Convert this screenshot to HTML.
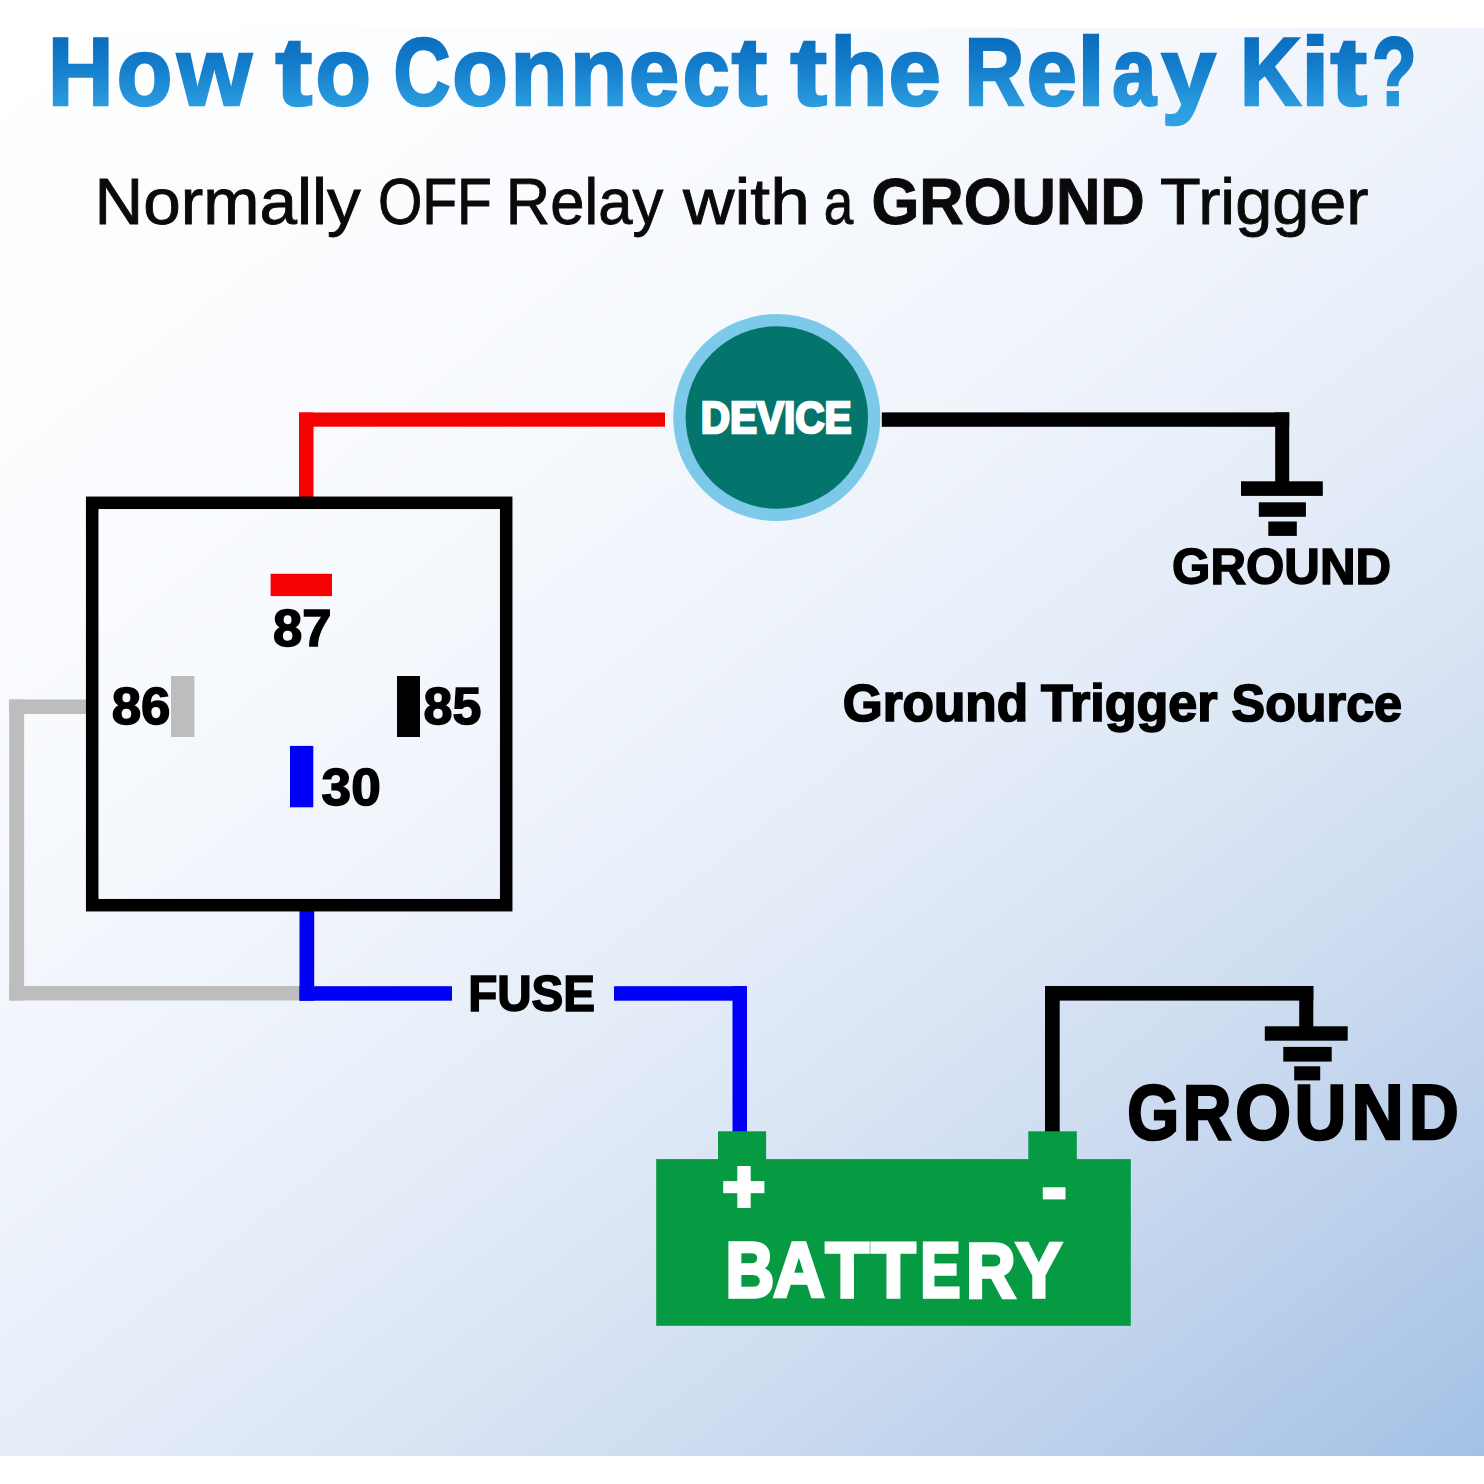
<!DOCTYPE html>
<html><head><meta charset="utf-8"><title>How to Connect the Relay Kit?</title>
<style>
html,body{margin:0;padding:0;background:#fff;}
body{width:1484px;height:1484px;overflow:hidden;font-family:"Liberation Sans",sans-serif;}
svg{display:block;position:absolute;left:0;top:0;}
text{font-family:"Liberation Sans",sans-serif;white-space:pre;}
</style></head><body>
<svg width="1484" height="1484" viewBox="0 0 1484 1484">
<defs>
<linearGradient id="bg" gradientUnits="userSpaceOnUse" x1="0" y1="28" x2="1254" y2="1634">
<stop offset="0" stop-color="#ffffff"/>
<stop offset="0.25" stop-color="#f9fbfe"/>
<stop offset="0.40" stop-color="#f2f6fc"/>
<stop offset="0.50" stop-color="#ebf1fa"/>
<stop offset="0.62" stop-color="#dfe9f6"/>
<stop offset="0.75" stop-color="#cfddf1"/>
<stop offset="0.87" stop-color="#bbd0eb"/>
<stop offset="1" stop-color="#a3c1e5"/>
</linearGradient>
<linearGradient id="tg" gradientUnits="userSpaceOnUse" x1="0" y1="-70" x2="0" y2="20">
<stop offset="0" stop-color="#0a6cbd"/>
<stop offset="0.35" stop-color="#147dcb"/>
<stop offset="0.78" stop-color="#2a9bdf"/>
<stop offset="1" stop-color="#2fa2e4"/>
</linearGradient>
</defs>
<rect x="0" y="0" width="1484" height="1484" fill="#ffffff"/>
<rect x="0" y="28" width="1484" height="1428" fill="url(#bg)"/>

<g>
<text transform="translate(47.91 104.70) scale(0.9454 1)" font-size="95.85" font-weight="bold" fill="url(#tg)" stroke="url(#tg)" stroke-width="2.60" stroke-linejoin="miter" stroke-miterlimit="3">H</text>
<text transform="translate(116.80 104.70) scale(0.9489 1)" font-size="95.85" font-weight="bold" fill="url(#tg)" stroke="url(#tg)" stroke-width="2.60" stroke-linejoin="miter" stroke-miterlimit="3">o</text>
<text transform="translate(177.14 104.70) scale(0.9973 1)" font-size="95.85" font-weight="bold" fill="url(#tg)" stroke="url(#tg)" stroke-width="2.60" stroke-linejoin="miter" stroke-miterlimit="3">w</text>
<text transform="translate(275.52 104.70) scale(1.1504 1)" font-size="95.85" font-weight="bold" fill="url(#tg)" stroke="url(#tg)" stroke-width="2.60" stroke-linejoin="miter" stroke-miterlimit="3">t</text>
<text transform="translate(315.60 104.70) scale(0.9451 1)" font-size="95.85" font-weight="bold" fill="url(#tg)" stroke="url(#tg)" stroke-width="2.60" stroke-linejoin="miter" stroke-miterlimit="3">o</text>
<text transform="translate(393.41 104.70) scale(0.8228 1)" font-size="95.85" font-weight="bold" fill="url(#tg)" stroke="url(#tg)" stroke-width="2.60" stroke-linejoin="miter" stroke-miterlimit="3">C</text>
<text transform="translate(452.30 104.70) scale(0.9489 1)" font-size="95.85" font-weight="bold" fill="url(#tg)" stroke="url(#tg)" stroke-width="2.60" stroke-linejoin="miter" stroke-miterlimit="3">o</text>
<text transform="translate(510.60 104.70) scale(0.9737 1)" font-size="95.85" font-weight="bold" fill="url(#tg)" stroke="url(#tg)" stroke-width="2.60" stroke-linejoin="miter" stroke-miterlimit="3">n</text>
<text transform="translate(570.07 104.70) scale(0.9798 1)" font-size="95.85" font-weight="bold" fill="url(#tg)" stroke="url(#tg)" stroke-width="2.60" stroke-linejoin="miter" stroke-miterlimit="3">n</text>
<text transform="translate(629.12 104.70) scale(0.9396 1)" font-size="95.85" font-weight="bold" fill="url(#tg)" stroke="url(#tg)" stroke-width="2.60" stroke-linejoin="miter" stroke-miterlimit="3">e</text>
<text transform="translate(682.67 104.70) scale(0.8798 1)" font-size="95.85" font-weight="bold" fill="url(#tg)" stroke="url(#tg)" stroke-width="2.60" stroke-linejoin="miter" stroke-miterlimit="3">c</text>
<text transform="translate(731.81 104.70) scale(1.1099 1)" font-size="95.85" font-weight="bold" fill="url(#tg)" stroke="url(#tg)" stroke-width="2.60" stroke-linejoin="miter" stroke-miterlimit="3">t</text>
<text transform="translate(790.52 104.70) scale(1.1411 1)" font-size="95.85" font-weight="bold" fill="url(#tg)" stroke="url(#tg)" stroke-width="2.60" stroke-linejoin="miter" stroke-miterlimit="3">t</text>
<text transform="translate(830.31 104.70) scale(0.9772 1)" font-size="95.85" font-weight="bold" fill="url(#tg)" stroke="url(#tg)" stroke-width="2.60" stroke-linejoin="miter" stroke-miterlimit="3">h</text>
<text transform="translate(888.62 104.70) scale(0.9806 1)" font-size="95.85" font-weight="bold" fill="url(#tg)" stroke="url(#tg)" stroke-width="2.60" stroke-linejoin="miter" stroke-miterlimit="3">e</text>
<text transform="translate(964.53 104.70) scale(0.8651 1)" font-size="95.85" font-weight="bold" fill="url(#tg)" stroke="url(#tg)" stroke-width="2.60" stroke-linejoin="miter" stroke-miterlimit="3">R</text>
<text transform="translate(1026.72 104.70) scale(0.9396 1)" font-size="95.85" font-weight="bold" fill="url(#tg)" stroke="url(#tg)" stroke-width="2.60" stroke-linejoin="miter" stroke-miterlimit="3">e</text>
<text transform="translate(1077.38 104.70) scale(1.0203 1)" font-size="95.85" font-weight="bold" fill="url(#tg)" stroke="url(#tg)" stroke-width="2.60" stroke-linejoin="miter" stroke-miterlimit="3">l</text>
<text transform="translate(1112.30 104.70) scale(0.8221 1)" font-size="95.85" font-weight="bold" fill="url(#tg)" stroke="url(#tg)" stroke-width="2.60" stroke-linejoin="miter" stroke-miterlimit="3">a</text>
<text transform="translate(1161.59 104.70) scale(1.0183 1)" font-size="95.85" font-weight="bold" fill="url(#tg)" stroke="url(#tg)" stroke-width="2.60" stroke-linejoin="miter" stroke-miterlimit="3">y</text>
<text transform="translate(1239.94 104.70) scale(0.8816 1)" font-size="95.85" font-weight="bold" fill="url(#tg)" stroke="url(#tg)" stroke-width="2.60" stroke-linejoin="miter" stroke-miterlimit="3">K</text>
<text transform="translate(1301.31 104.70) scale(1.0520 1)" font-size="95.85" font-weight="bold" fill="url(#tg)" stroke="url(#tg)" stroke-width="2.60" stroke-linejoin="miter" stroke-miterlimit="3">i</text>
<text transform="translate(1330.62 104.70) scale(1.1442 1)" font-size="95.85" font-weight="bold" fill="url(#tg)" stroke="url(#tg)" stroke-width="2.60" stroke-linejoin="miter" stroke-miterlimit="3">t</text>
<text transform="translate(1372.12 104.70) scale(0.7626 1)" font-size="95.85" font-weight="bold" fill="url(#tg)" stroke="url(#tg)" stroke-width="2.60" stroke-linejoin="miter" stroke-miterlimit="3">?</text>
</g>
<g>
<text transform="translate(94.50 224.25) scale(1.0402 1)" font-size="64.87" font-weight="normal" fill="#0a0a0a" stroke="#0a0a0a" stroke-width="0.90" stroke-linejoin="miter" stroke-miterlimit="3">Normally</text>
<text transform="translate(377.88 224.25) scale(0.8798 1)" font-size="64.87" font-weight="normal" fill="#0a0a0a" stroke="#0a0a0a" stroke-width="0.90" stroke-linejoin="miter" stroke-miterlimit="3">OFF</text>
<text transform="translate(505.85 224.25) scale(0.9486 1)" font-size="64.87" font-weight="normal" fill="#0a0a0a" stroke="#0a0a0a" stroke-width="0.90" stroke-linejoin="miter" stroke-miterlimit="3">Relay</text>
<text transform="translate(682.99 224.25) scale(1.0992 1)" font-size="64.87" font-weight="normal" fill="#0a0a0a" stroke="#0a0a0a" stroke-width="0.90" stroke-linejoin="miter" stroke-miterlimit="3">with</text>
<text transform="translate(823.71 224.25) scale(0.8170 1)" font-size="64.87" font-weight="normal" fill="#0a0a0a" stroke="#0a0a0a" stroke-width="0.90" stroke-linejoin="miter" stroke-miterlimit="3">a</text>
<text transform="translate(871.41 224.20) scale(0.9503 1)" font-size="64.73" font-weight="bold" fill="#0a0a0a" stroke="#0a0a0a" stroke-width="1.00" stroke-linejoin="miter" stroke-miterlimit="3">GROUND</text>
<text transform="translate(1159.96 224.25) scale(1.0272 1)" font-size="64.87" font-weight="normal" fill="#0a0a0a" stroke="#0a0a0a" stroke-width="0.90" stroke-linejoin="miter" stroke-miterlimit="3">Trigger</text>
</g>
<g>
<rect x="299" y="412.5" width="14.5" height="90" fill="#f40202"/>
<rect x="299" y="412.5" width="366" height="14.2" fill="#f40202"/>
<rect x="9.2" y="699.5" width="80" height="14.5" fill="#bdbdbd"/>
<rect x="9.2" y="699.5" width="14.9" height="301" fill="#bdbdbd"/>
<rect x="9.2" y="986" width="291" height="14.5" fill="#bdbdbd"/>
<rect x="299.5" y="905" width="14.7" height="95.7" fill="#0000f6"/>
<rect x="299.5" y="986.2" width="152.5" height="14.5" fill="#0000f6"/>
<rect x="614" y="986.2" width="133" height="14.5" fill="#0000f6"/>
<rect x="732.5" y="986.2" width="14.5" height="150" fill="#0000f6"/>
<rect x="881.8" y="412.4" width="407.4" height="14.4" fill="#000000"/>
<rect x="1275.2" y="412.4" width="14" height="72" fill="#000000"/>
<rect x="1241" y="481.3" width="81.8" height="14.6" fill="#000000"/>
<rect x="1258.8" y="502.3" width="47.1" height="14.5" fill="#000000"/>
<rect x="1268.3" y="521.5" width="28.5" height="14.4" fill="#000000"/>
<rect x="1045" y="986" width="14.7" height="150" fill="#000000"/>
<rect x="1045" y="986" width="268.3" height="14.6" fill="#000000"/>
<rect x="1299.2" y="986" width="14.1" height="44" fill="#000000"/>
<rect x="1264.8" y="1026.3" width="82.9" height="14.4" fill="#000000"/>
<rect x="1283.3" y="1046.9" width="48.4" height="14.7" fill="#000000"/>
<rect x="1294.2" y="1066.3" width="26" height="14.1" fill="#000000"/>
<rect x="92.2" y="502.8" width="414" height="402.4" fill="none" stroke="#000" stroke-width="12.5"/>
<rect x="270.6" y="573.8" width="61.4" height="22.3" fill="#f40202"/>
<rect x="171" y="676" width="23.4" height="61" fill="#bdbdbd"/>
<rect x="397" y="676" width="23" height="61" fill="#000000"/>
<rect x="290" y="745.9" width="23.3" height="61.4" fill="#0000f6"/>
<rect x="656.2" y="1159.1" width="474.6" height="166.7" fill="#069a43"/>
<rect x="718" y="1131.3" width="48.1" height="30" fill="#069a43"/>
<rect x="1028.3" y="1131.3" width="48.5" height="30" fill="#069a43"/>
<rect x="723.2" y="1181.1" width="41.2" height="12.1" fill="#fff"/>
<rect x="737.3" y="1166" width="13.4" height="42" fill="#fff"/>
<rect x="1042.8" y="1187.3" width="22.7" height="12.1" fill="#fff"/>
</g>
<circle cx="776.8" cy="417.5" r="103.6" fill="#7cc9e9"/>
<circle cx="776.8" cy="417.5" r="91.2" fill="#04756d"/>
<text transform="translate(700.86 433.30) scale(0.9160 1)" font-size="44.22" font-weight="bold" fill="#ffffff" stroke="#ffffff" stroke-width="2.60" stroke-linejoin="miter" stroke-miterlimit="3">DEVICE</text>
<text transform="translate(273.06 645.55) scale(1.0305 1)" font-size="51.05" font-weight="bold" fill="#000" stroke="#000" stroke-width="1.50" stroke-linejoin="miter" stroke-miterlimit="3">87</text>
<text transform="translate(111.66 724.25) scale(1.0343 1)" font-size="51.05" font-weight="bold" fill="#000" stroke="#000" stroke-width="1.50" stroke-linejoin="miter" stroke-miterlimit="3">86</text>
<text transform="translate(423.57 724.25) scale(1.0180 1)" font-size="51.05" font-weight="bold" fill="#000" stroke="#000" stroke-width="1.50" stroke-linejoin="miter" stroke-miterlimit="3">85</text>
<text transform="translate(321.58 805.15) scale(1.0422 1)" font-size="51.05" font-weight="bold" fill="#000" stroke="#000" stroke-width="1.50" stroke-linejoin="miter" stroke-miterlimit="3">30</text>
<text transform="translate(468.14 1011.10) scale(0.9407 1)" font-size="50.62" font-weight="bold" fill="#000" stroke="#000" stroke-width="1.60" stroke-linejoin="miter" stroke-miterlimit="3">FUSE</text>
<text transform="translate(1172.06 583.95) scale(0.9710 1)" font-size="50.76" font-weight="bold" fill="#000" stroke="#000" stroke-width="1.50" stroke-linejoin="miter" stroke-miterlimit="3">GROUND</text>
<text transform="translate(842.70 720.75) scale(1.0002 1)" font-size="51.35" font-weight="bold" fill="#000" stroke="#000" stroke-width="1.70" stroke-linejoin="miter" stroke-miterlimit="3">Ground</text>
<text transform="translate(1041.04 720.75) scale(1.0139 1)" font-size="51.35" font-weight="bold" fill="#000" stroke="#000" stroke-width="1.70" stroke-linejoin="miter" stroke-miterlimit="3">Trigger</text>
<text transform="translate(1231.62 720.75) scale(0.9794 1)" font-size="51.35" font-weight="bold" fill="#000" stroke="#000" stroke-width="1.70" stroke-linejoin="miter" stroke-miterlimit="3">Source</text>
<text transform="translate(1127.14 1139.20) scale(0.8565 1)" font-size="77.96" font-weight="bold" fill="#000" stroke="#000" stroke-width="2.60" stroke-linejoin="miter" stroke-miterlimit="3">G</text>
<text transform="translate(1182.67 1139.20) scale(0.8649 1)" font-size="77.96" font-weight="bold" fill="#000" stroke="#000" stroke-width="2.60" stroke-linejoin="miter" stroke-miterlimit="3">R</text>
<text transform="translate(1235.33 1139.20) scale(0.9193 1)" font-size="77.96" font-weight="bold" fill="#000" stroke="#000" stroke-width="2.60" stroke-linejoin="miter" stroke-miterlimit="3">O</text>
<text transform="translate(1294.59 1139.20) scale(0.9215 1)" font-size="77.96" font-weight="bold" fill="#000" stroke="#000" stroke-width="2.60" stroke-linejoin="miter" stroke-miterlimit="3">U</text>
<text transform="translate(1351.42 1139.20) scale(0.9276 1)" font-size="77.96" font-weight="bold" fill="#000" stroke="#000" stroke-width="2.60" stroke-linejoin="miter" stroke-miterlimit="3">N</text>
<text transform="translate(1409.11 1139.20) scale(0.8818 1)" font-size="77.96" font-weight="bold" fill="#000" stroke="#000" stroke-width="2.60" stroke-linejoin="miter" stroke-miterlimit="3">D</text>
<text transform="translate(725.50 1297.30) scale(0.8644 1)" font-size="78.11" font-weight="bold" fill="#ffffff" stroke="#ffffff" stroke-width="3.60" stroke-linejoin="miter" stroke-miterlimit="3">B</text>
<text transform="translate(773.26 1297.30) scale(0.9100 1)" font-size="78.11" font-weight="bold" fill="#ffffff" stroke="#ffffff" stroke-width="3.60" stroke-linejoin="miter" stroke-miterlimit="3">A</text>
<text transform="translate(825.53 1297.30) scale(0.9097 1)" font-size="78.11" font-weight="bold" fill="#ffffff" stroke="#ffffff" stroke-width="3.60" stroke-linejoin="miter" stroke-miterlimit="3">T</text>
<text transform="translate(871.35 1297.30) scale(0.9299 1)" font-size="78.11" font-weight="bold" fill="#ffffff" stroke="#ffffff" stroke-width="3.60" stroke-linejoin="miter" stroke-miterlimit="3">T</text>
<text transform="translate(920.32 1297.30) scale(0.7731 1)" font-size="78.11" font-weight="bold" fill="#ffffff" stroke="#ffffff" stroke-width="3.60" stroke-linejoin="miter" stroke-miterlimit="3">E</text>
<text transform="translate(965.94 1297.30) scale(0.8811 1)" font-size="78.11" font-weight="bold" fill="#ffffff" stroke="#ffffff" stroke-width="3.60" stroke-linejoin="miter" stroke-miterlimit="3">R</text>
<text transform="translate(1015.78 1297.30) scale(0.8867 1)" font-size="78.11" font-weight="bold" fill="#ffffff" stroke="#ffffff" stroke-width="3.60" stroke-linejoin="miter" stroke-miterlimit="3">Y</text>
</svg>
</body></html>
